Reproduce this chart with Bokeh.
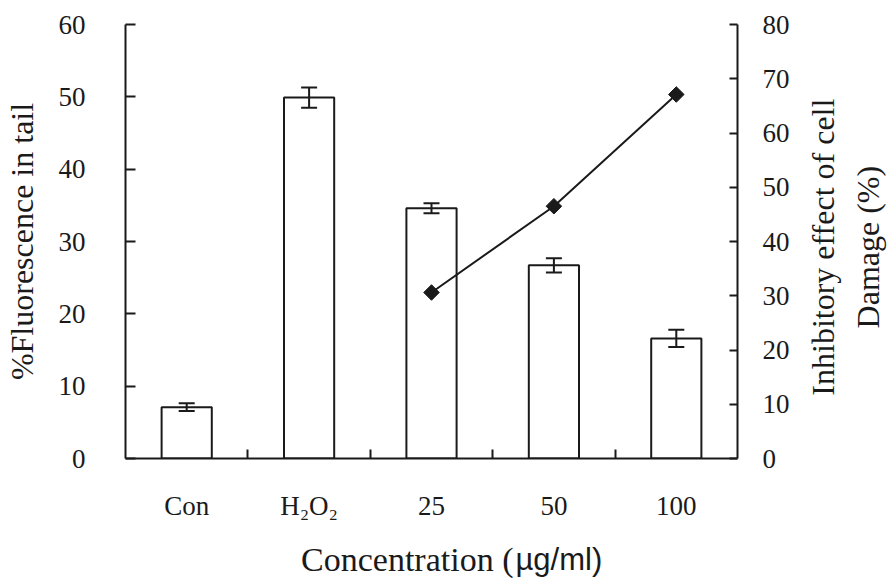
import math
from bokeh.plotting import figure
from bokeh.layouts import row, column
from bokeh.models import (Range1d, LinearAxis, FixedTicker, Whisker, ColumnDataSource, TeeHead)
from bokeh.core.properties import value
from bokeh.embed import file_html
from bokeh.resources import INLINE

# ---- data ----
categories = ["Con", "H\u2082O\u2082", "25", "50", "100"]
fluorescence = [7.1, 49.9, 34.6, 26.7, 16.6]
fluorescence_err = [0.55, 1.4, 0.7, 1.0, 1.2]
line_categories = ["25", "50", "100"]
inhibitory = [30.6, 46.5, 67.1]
left_ticks = [0, 10, 20, 30, 40, 50, 60]
right_ticks = [0, 10, 20, 30, 40, 50, 60, 70, 80]
x_title_serif = "Concentration ("
x_title_sans = "\u00b5g/ml)"
left_title = "%Fluorescence in tail"
right_title = "Inhibitory effect of cell\nDamage (%)"

FONT = "Liberation Serif"
SANS = "Liberation Sans Narrow, Liberation Sans"
INK = "#1a1a1a"

W, H = 889, 580
TITLE_W = 80      # strip on the right holding the right-hand title
STRIP_H = 40      # strip at the bottom holding the x title

# category index -> axis position (centre of each slot)
pos = {c: i + 0.5 for i, c in enumerate(categories)}
bar_x = [pos[c] for c in categories]
line_x = [pos[c] for c in line_categories]
boundaries = [i for i in range(1, len(categories))]

p = figure(width=W - TITLE_W, height=H - STRIP_H, output_backend="svg", toolbar_location=None,
           x_range=Range1d(0, len(categories)),
           y_range=Range1d(left_ticks[0], left_ticks[-1]),
           min_border_left=125, min_border_right=152 - TITLE_W,
           min_border_top=24, min_border_bottom=122 - STRIP_H)
p.extra_y_ranges = {"right": Range1d(right_ticks[0], right_ticks[-1])}
p.outline_line_color = None
p.xgrid.visible = False
p.ygrid.visible = False
p.background_fill_color = "white"
p.border_fill_color = "white"

src = ColumnDataSource(dict(x=bar_x, top=fluorescence,
                            upper=[v + e for v, e in zip(fluorescence, fluorescence_err)],
                            lower=[v - e for v, e in zip(fluorescence, fluorescence_err)]))

p.vbar(x="x", top="top", bottom=0, width=0.41, source=src,
       fill_color="white", line_color=INK, line_width=2)

w = Whisker(base="x", upper="upper", lower="lower", source=src, dimension="height",
            line_color=INK, line_width=2, level="overlay",
            upper_head=TeeHead(size=16, line_color=INK, line_width=2),
            lower_head=TeeHead(size=16, line_color=INK, line_width=2))
p.add_layout(w)

lsrc = ColumnDataSource(dict(x=line_x, y=inhibitory))
p.line("x", "y", source=lsrc, y_range_name="right", line_color=INK, line_width=2)
p.scatter("x", "y", source=lsrc, y_range_name="right", marker="square",
          angle=math.pi / 4, size=11, fill_color=INK, line_color=INK)

# ---- x axis ----
xa = p.xaxis[0]
xa.ticker = FixedTicker(ticks=bar_x, minor_ticks=boundaries)
xa.major_label_overrides = {x: c for x, c in zip(bar_x, categories)}
xa.major_tick_in = 0
xa.major_tick_out = 0
xa.minor_tick_in = 9
xa.minor_tick_out = 0
xa.minor_tick_line_color = INK
xa.minor_tick_line_width = 2
xa.axis_line_color = INK
xa.axis_line_width = 2
xa.major_label_standoff = 32
xa.major_label_text_font = FONT
xa.major_label_text_font_size = "27px"
xa.major_label_text_color = INK

# ---- left axis ----
ya = p.yaxis[0]
ya.ticker = FixedTicker(ticks=left_ticks)
ya.minor_tick_line_color = None
ya.major_tick_in = 10
ya.major_tick_out = 0
ya.major_tick_line_color = INK
ya.major_tick_line_width = 2
ya.axis_line_color = INK
ya.axis_line_width = 2
ya.major_label_standoff = 40
ya.major_label_text_font = FONT
ya.major_label_text_font_size = "27px"
ya.major_label_text_color = INK
ya.axis_label = left_title
ya.axis_label_text_font = FONT
ya.axis_label_text_font_size = "32px"
ya.axis_label_text_font_style = "normal"
ya.axis_label_text_color = INK
ya.axis_label_standoff = 16

# ---- right axis ----
ra = LinearAxis(y_range_name="right", ticker=FixedTicker(ticks=right_ticks))
ra.minor_tick_line_color = None
ra.major_tick_in = 8
ra.major_tick_out = 0
ra.major_tick_line_color = INK
ra.major_tick_line_width = 2
ra.axis_line_color = INK
ra.axis_line_width = 2
ra.major_label_standoff = 25
ra.major_label_text_font = FONT
ra.major_label_text_font_size = "27px"
ra.major_label_text_color = INK
p.add_layout(ra, "right")

def strip(width, height):
    f = figure(width=width, height=height, output_backend="svg", toolbar_location=None,
               x_range=Range1d(0, width), y_range=Range1d(0, height),
               x_axis_location=None, y_axis_location=None,
               min_border=0, outline_line_color=None)
    f.grid.visible = False
    f.background_fill_color = "white"
    f.border_fill_color = "white"
    return f

# ---- right-hand title strip (two lines reading bottom-to-top) ----
q = strip(TITLE_W, H - STRIP_H)
q.text(x=[36], y=[263], text=[right_title], angle=math.pi / 2,
       text_align="center", text_baseline="middle",
       text_font=value(FONT), text_font_size="32px", text_color=INK,
       text_line_height=1.24)

# ---- bottom x-title strip: serif text followed by the unit in sans ----
b = strip(W, STRIP_H)
b.text(x=[513], y=[21], text=[x_title_serif], text_align="right",
       text_baseline="alphabetic", text_font=value(FONT),
       text_font_size="34px", text_color=INK)
b.text(x=[515], y=[21], text=[x_title_sans], text_align="left",
       text_baseline="alphabetic", text_font=value(SANS),
       text_font_size="31px", text_color=INK)

layout = column(row(p, q), b)
open("out.html", "w").write(file_html(layout, INLINE))
